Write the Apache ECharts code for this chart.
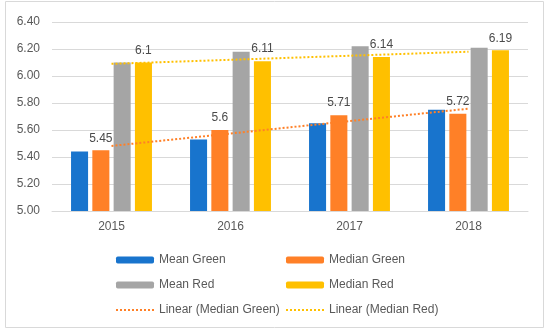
<!DOCTYPE html>
<html><head><meta charset="utf-8">
<script src="https://cdn.jsdelivr.net/npm/echarts@6/dist/echarts.min.js"></script>
<style>html,body{margin:0;padding:0;background:#fff}#c{width:550px;height:334px}</style>
</head><body><div id="c"></div>
<script>
const categories = ['2015', '2016', '2017', '2018'];
const meanGreen = [5.44, 5.53, 5.65, 5.75];
const medianGreen = [5.45, 5.6, 5.71, 5.72];
const meanRed = [6.1, 6.18, 6.22, 6.21];
const medianRed = [6.1, 6.11, 6.14, 6.19];

function linearFit(ys) {
  const n = ys.length;
  const xs = ys.map((_, i) => i + 1);
  const mx = xs.reduce((a, b) => a + b, 0) / n;
  const my = ys.reduce((a, b) => a + b, 0) / n;
  let num = 0, den = 0;
  for (let i = 0; i < n; i++) { num += (xs[i] - mx) * (ys[i] - my); den += (xs[i] - mx) ** 2; }
  const k = num / den, b = my - k * mx;
  return xs.map(x => +(k * x + b).toFixed(4));
}

const FONT = 'Liberation Sans';
const chart = echarts.init(document.getElementById('c'), null, {renderer: 'canvas'});
const labelStyle = {show: true, position: 'top', distance: 6, color: '#4a4a4a', fontSize: 12, fontFamily: FONT};
const legendText = {color: '#595959', fontSize: 12, fontFamily: FONT};
const hideSym = {opacity: 0};
chart.setOption({
  animation: false,
  textStyle: {fontFamily: FONT},
  graphic: [{type: 'rect', shape: {x: 5.5, y: 1.5, width: 538, height: 326}, style: {fill: 'none', stroke: '#d9d9d9', lineWidth: 1}}],
  grid: {left: 52, right: 22, top: 22, bottom: 123},
  legend: [
    {left: 110, top: 249, orient: 'vertical', itemWidth: 38, itemHeight: 7, itemGap: 13, textStyle: legendText,
     data: ['Mean Green', 'Mean Red', {name: 'Linear (Median Green)', itemStyle: hideSym}]},
    {left: 280, top: 249, orient: 'vertical', itemWidth: 38, itemHeight: 7, itemGap: 13, textStyle: legendText,
     data: ['Median Green', 'Median Red', {name: 'Linear (Median Red)', itemStyle: hideSym}]}
  ],
  xAxis: {type: 'category', data: categories,
    axisLine: {lineStyle: {color: '#d9d9d9'}}, axisTick: {show: false},
    axisLabel: {color: '#595959', fontSize: 12, margin: 10}},
  yAxis: {type: 'value', min: 5, max: 6.4, interval: 0.2,
    axisLine: {show: false}, axisTick: {show: false},
    splitLine: {lineStyle: {color: '#d9d9d9'}},
    axisLabel: {color: '#595959', fontSize: 12, margin: 12, formatter: v => v.toFixed(2)}},
  series: [
    {name: 'Mean Green', type: 'bar', data: meanGreen, itemStyle: {color: '#1874CD'}, barGap: '25%', barCategoryGap: '32%'},
    {name: 'Median Green', type: 'bar', data: medianGreen, itemStyle: {color: '#FF8027'}, label: labelStyle},
    {name: 'Mean Red', type: 'bar', data: meanRed, itemStyle: {color: '#A5A5A5'}},
    {name: 'Median Red', type: 'bar', data: medianRed, itemStyle: {color: '#FFC000'}, label: labelStyle},
    {name: 'Linear (Median Green)', type: 'line', data: linearFit(medianGreen), symbol: 'none', z: 5,
     lineStyle: {color: '#FF8027', width: 2, type: [2, 2]}, itemStyle: {color: '#FF8027'}},
    {name: 'Linear (Median Red)', type: 'line', data: linearFit(medianRed), symbol: 'none', z: 5,
     lineStyle: {color: '#FFC000', width: 2, type: [2, 2]}, itemStyle: {color: '#FFC000'}}
  ]
});
</script></body></html>
